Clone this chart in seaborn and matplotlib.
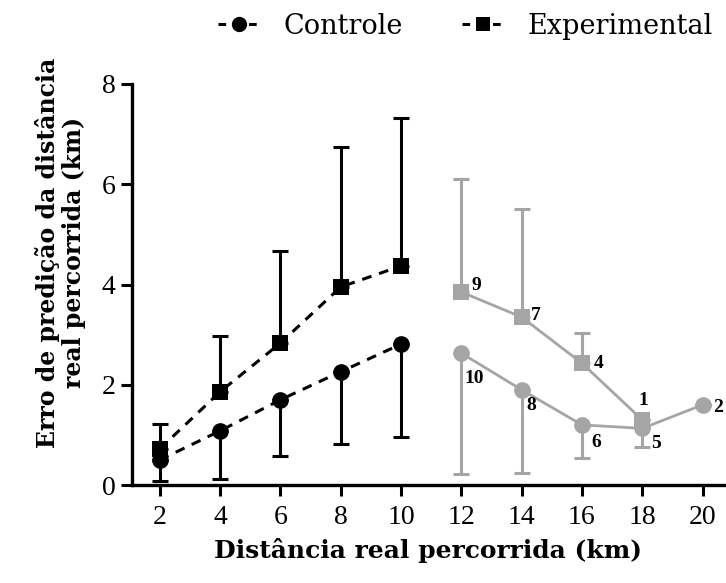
import matplotlib
matplotlib.use("Agg")
import matplotlib.pyplot as plt
from matplotlib.lines import Line2D
import seaborn as sns
import numpy as np

# ---- data ----
x_black = [2, 4, 6, 8, 10]
ctrl_black = [0.50, 1.08, 1.70, 2.26, 2.81]
ctrl_black_low = [0.08, 0.12, 0.58, 0.82, 0.96]      # lower end of error bar
exp_black = [0.72, 1.86, 2.83, 3.95, 4.37]
exp_black_high = [1.22, 2.97, 4.67, 6.75, 7.33]       # upper end of error bar

x_ctrl_gray = [12, 14, 16, 18, 20]
ctrl_gray = [2.63, 1.90, 1.20, 1.13, 1.60]
ctrl_gray_low = [0.22, 0.24, 0.54, 0.76, 1.60]
ctrl_gray_n = ["10", "8", "6", "5", "2"]

x_exp_gray = [12, 14, 16, 18]
exp_gray = [3.85, 3.35, 2.43, 1.30]
exp_gray_high = [6.11, 5.51, 3.03, 1.30]
exp_gray_n = ["9", "7", "4", "1"]

x_ticks = [2, 4, 6, 8, 10, 12, 14, 16, 18, 20]
y_ticks = [0, 2, 4, 6, 8]

GRAY = "#a5a5a5"
SERIF = ["Liberation Serif", "DejaVu Serif"]
LABSERIF = ["DejaVu Serif"]

sns.set_style("ticks")
plt.rcParams["font.family"] = SERIF
for k in ["text.color", "axes.labelcolor", "xtick.color", "ytick.color", "axes.edgecolor"]:
    plt.rcParams[k] = "black"

fig = plt.figure(figsize=(7.26, 5.83), dpi=100)
ax = fig.add_axes([0.1818, 0.168, 0.815, 0.688])

lw = 2.2
# error bars (one-sided)
ax.errorbar(x_black, ctrl_black,
            yerr=[np.array(ctrl_black) - np.array(ctrl_black_low), np.zeros(len(x_black))],
            fmt="none", ecolor="black", elinewidth=lw, capsize=6, capthick=lw, zorder=2)
ax.errorbar(x_black, exp_black,
            yerr=[np.zeros(len(x_black)), np.array(exp_black_high) - np.array(exp_black)],
            fmt="none", ecolor="black", elinewidth=lw, capsize=6, capthick=lw, zorder=2)
ax.errorbar(x_ctrl_gray, ctrl_gray,
            yerr=[np.array(ctrl_gray) - np.array(ctrl_gray_low), np.zeros(len(x_ctrl_gray))],
            fmt="none", ecolor=GRAY, elinewidth=lw, capsize=6, capthick=lw, zorder=2)
ax.errorbar(x_exp_gray, exp_gray,
            yerr=[np.zeros(len(x_exp_gray)), np.array(exp_gray_high) - np.array(exp_gray)],
            fmt="none", ecolor=GRAY, elinewidth=lw, capsize=6, capthick=lw, zorder=2)

# lines + markers
sns.lineplot(x=x_black, y=ctrl_black, ax=ax, color="black", marker="o", markersize=12,
             markeredgewidth=0, linewidth=2.2, linestyle=(0, (3.2, 2.6)), zorder=3)
sns.lineplot(x=x_black, y=exp_black, ax=ax, color="black", marker="s", markersize=11.5,
             markeredgewidth=0, linewidth=2.2, linestyle=(0, (3.2, 2.6)), zorder=3)
sns.lineplot(x=x_ctrl_gray, y=ctrl_gray, ax=ax, color=GRAY, marker="o", markersize=12,
             markeredgewidth=0, linewidth=2.0, zorder=3)
sns.lineplot(x=x_exp_gray, y=exp_gray, ax=ax, color=GRAY, marker="s", markersize=11.5,
             markeredgewidth=0, linewidth=2.0, zorder=3)

# n labels
ctrl_off = [(9, -18), (7, -11), (10, -13), (10, -11), (11, -2)]
exp_off = [(11, 5), (10, 1), (12, 0), (1, 14)]
for xi, yi, t, (dx, dy) in zip(x_ctrl_gray, ctrl_gray, ctrl_gray_n, ctrl_off):
    ax.annotate(t, (xi, yi), xytext=(dx, dy), textcoords="offset points",
                ha="center", va="center", fontsize=14, fontweight="bold", family=SERIF)
for xi, yi, t, (dx, dy) in zip(x_exp_gray, exp_gray, exp_gray_n, exp_off):
    ax.annotate(t, (xi, yi), xytext=(dx, dy), textcoords="offset points",
                ha="center", va="center", fontsize=14, fontweight="bold", family=SERIF)

ax.set_xlim(1.08, 20.7)
ax.set_ylim(0, 8)
ax.set_xticks(x_ticks)
ax.set_yticks(y_ticks)
ax.tick_params(axis="both", labelsize=20, length=8, width=2.2, color="black",
               labelcolor="black", pad=4)
ax.tick_params(axis="x", pad=6)
for s in ["left", "bottom"]:
    ax.spines[s].set_linewidth(2.4)
    ax.spines[s].set_color("black")
sns.despine(ax=ax)

ax.set_xlabel("Distância real percorrida (km)", fontsize=18, fontweight="bold",
              labelpad=6, family=LABSERIF, color="black")
ax.set_ylabel("Erro de predição da distância\nreal percorrida (km)", fontsize=17,
              fontweight="bold", linespacing=1.15, family=LABSERIF, color="black")
ax.yaxis.set_label_coords(-0.077, 0.58)

handles = [
    Line2D([], [], color="black", marker="o", markersize=11, markeredgewidth=0,
           linestyle=(0, (2.5, 2.5)), linewidth=2.2),
    Line2D([], [], color="black", marker="s", markersize=10.5, markeredgewidth=0,
           linestyle=(0, (2.5, 2.5)), linewidth=2.2),
]
fig.legend(handles, ["Controle", "Experimental"], loc="center", ncol=2, frameon=False,
           bbox_to_anchor=(0.641, 0.955), handlelength=1.5, columnspacing=2.2,
           handletextpad=0.9, prop={"family": ["DejaVu Serif"], "size": 19.5})

fig.savefig("out.png", dpi=100)
